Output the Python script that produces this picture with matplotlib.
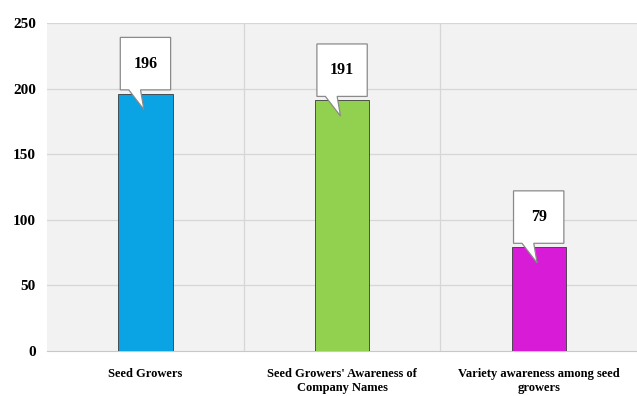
import matplotlib.pyplot as plt
from matplotlib.patches import Polygon

# Survey counts
categories = ["Seed Growers",
              "Seed Growers' Awareness of\nCompany Names",
              "Variety awareness among seed\ngrowers"]
counts = [196, 191, 79]
bar_colors = ["#0aa3e3", "#92d050", "#d71bd6"]
y_ticks = [0, 50, 100, 150, 200, 250]

plt.rcParams['font.family'] = ['Liberation Serif', 'DejaVu Serif']

fig = plt.figure(figsize=(6.37, 3.96), dpi=100)
ax = fig.add_axes([0.074, 0.114, 0.926, 0.828])
ax.set_facecolor('#f2f2f2')

x = range(len(categories))
ax.bar(x, counts, width=0.276, color=bar_colors, edgecolor='#3a3a3a',
       linewidth=0.6, zorder=3)

ax.set_xlim(-0.5, 2.5)
ax.set_ylim(0, 250)
ax.set_yticks(y_ticks)
ax.set_yticklabels([str(v) for v in y_ticks], fontsize=11, fontweight='bold')
ax.set_xticks(list(x))
ax.set_xticklabels(categories, fontsize=9, fontweight='bold', linespacing=1.3)
ax.tick_params(length=0, pad=8)
ax.tick_params(axis='x', pad=12)

# grid: horizontal every 50, vertical between categories
for v in y_ticks[1:]:
    ax.axhline(v, color='#d6d6d6', linewidth=0.9, zorder=1)
for v in [0.5, 1.5]:
    ax.axvline(v, color='#d6d6d6', linewidth=0.9, zorder=1)

for s in ['top', 'right', 'left']:
    ax.spines[s].set_visible(False)
ax.spines['bottom'].set_color('#c8c8c8')

# callout labels above each bar
for i, v in enumerate(counts):
    l, r = i - 0.128, i + 0.128
    b = v + 3
    t = b + 40
    pts = [(l, b), (i - 0.085, b), (i - 0.008, v - 12), (i - 0.025, b),
           (r, b), (r, t), (l, t)]
    ax.add_patch(Polygon(pts, closed=True, facecolor='white',
                         edgecolor='#8a8a8a', linewidth=0.9, zorder=4,
                         clip_on=False))
    ax.text(i, b + 20, str(v), ha='center', va='center', fontsize=11.5,
            fontweight='bold', zorder=5)

fig.savefig('out.png', dpi=100)
